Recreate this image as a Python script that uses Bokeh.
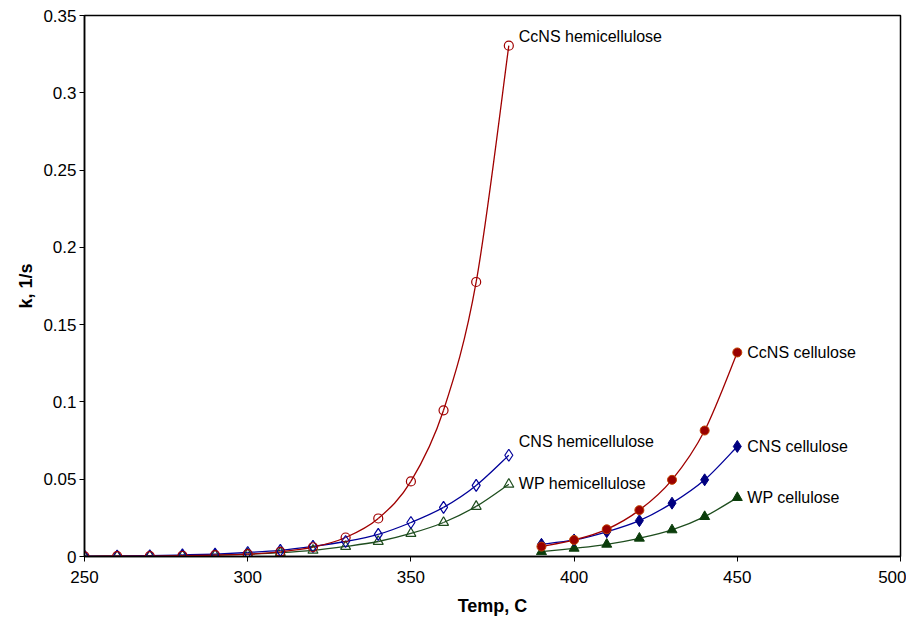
import numpy as np
from bokeh.plotting import figure
from bokeh.models import ColumnDataSource, Range1d, FixedTicker, Label
from bokeh.embed import file_html
from bokeh.resources import INLINE

# ---- data ----
temp_hemi = [250, 260, 270, 280, 290, 300, 310, 320, 330, 340, 350, 360, 370, 380]
ccns_hemi = [0.0001, 0.0002, 0.0003, 0.0005, 0.0009, 0.0015, 0.003, 0.006, 0.0123, 0.0246, 0.0486, 0.0946, 0.1776, 0.3305]
cns_hemi = [0.0002, 0.0003, 0.0005, 0.001, 0.0016, 0.0026, 0.004, 0.0065, 0.0097, 0.0143, 0.022, 0.0318, 0.046, 0.0655]
wp_hemi = [0.0001, 0.0002, 0.0003, 0.0005, 0.0009, 0.0015, 0.0025, 0.004, 0.0065, 0.0097, 0.0149, 0.022, 0.0324, 0.0467]

temp_cell = [390, 400, 410, 420, 430, 440, 450]
ccns_cell = [0.0064, 0.0107, 0.0176, 0.030, 0.0496, 0.0815, 0.132]
cns_cell = [0.0079, 0.0107, 0.016, 0.0232, 0.0345, 0.0496, 0.0712]
wp_cell = [0.0031, 0.0053, 0.0079, 0.0118, 0.0172, 0.0258, 0.0381]

x_ticks = [250, 300, 350, 400, 450, 500]
y_ticks = [0, 0.05, 0.1, 0.15, 0.2, 0.25, 0.3, 0.35]
y_tick_labels = {0: "0", 0.05: "0.05", 0.1: "0.1", 0.15: "0.15", 0.2: "0.2",
                 0.25: "0.25", 0.3: "0.3", 0.35: "0.35"}

RED = "#A00000"
BLUE = "#000099"
GREEN = "#1E4D1E"
FONT = "Liberation Sans"

p = figure(width=906, height=621, output_backend="svg", toolbar_location=None,
           x_range=Range1d(250, 500), y_range=Range1d(0, 0.35),
           min_border_left=84, min_border_right=6, min_border_top=15, min_border_bottom=65)
p.grid.visible = False
p.outline_line_color = "black"
p.outline_line_width = 1.5
p.background_fill_color = "white"
p.border_fill_color = "white"

for ax in (p.xaxis[0], p.yaxis[0]):
    ax.axis_line_width = 1.5
    ax.axis_line_color = "black"
    ax.major_tick_line_color = "black"
    ax.major_tick_in = 0
    ax.major_tick_out = 5
    ax.minor_tick_line_color = None
    ax.major_label_text_font = FONT
    ax.major_label_text_font_size = "17px"
    ax.major_label_text_color = "black"
    ax.axis_label_text_font = FONT
    ax.axis_label_text_font_size = "18px"
    ax.axis_label_text_font_style = "bold"
    ax.axis_label_text_color = "black"

p.xaxis.ticker = FixedTicker(ticks=x_ticks)
p.yaxis.ticker = FixedTicker(ticks=y_ticks)
p.yaxis.major_label_overrides = y_tick_labels
p.xaxis.axis_label = "Temp, C"
p.yaxis.axis_label = "k, 1/s"
p.xaxis.major_label_standoff = 9
p.xaxis.axis_label_standoff = 10
p.yaxis.major_label_standoff = 3
p.yaxis.axis_label_standoff = 4


def smooth(xs, ys, color):
    # Catmull-Rom style smoothing (like spreadsheet smoothed lines) drawn as Beziers
    xs = np.asarray(xs, float)
    ys = np.asarray(ys, float)
    n = len(xs)
    x0, y0, x1, y1, cx0, cy0, cx1, cy1 = [], [], [], [], [], [], [], []
    for i in range(n - 1):
        xp, yp = (xs[i - 1], ys[i - 1]) if i > 0 else (xs[i], ys[i])
        xn, yn = (xs[i + 2], ys[i + 2]) if i + 2 < n else (xs[i + 1], ys[i + 1])
        x0.append(xs[i]); y0.append(ys[i]); x1.append(xs[i + 1]); y1.append(ys[i + 1])
        cx0.append(xs[i] + (xs[i + 1] - xp) / 6.0)
        cy0.append(ys[i] + (ys[i + 1] - yp) / 6.0)
        cx1.append(xs[i + 1] - (xn - xs[i]) / 6.0)
        cy1.append(ys[i + 1] - (yn - ys[i]) / 6.0)
    src = ColumnDataSource(dict(x0=x0, y0=y0, x1=x1, y1=y1, cx0=cx0, cy0=cy0, cx1=cx1, cy1=cy1))
    p.bezier(x0="x0", y0="y0", x1="x1", y1="y1", cx0="cx0", cy0="cy0", cx1="cx1", cy1="cy1",
             source=src, line_color=color, line_width=1.3)


# hemicellulose series (open markers)
smooth(temp_hemi, wp_hemi, GREEN)
smooth(temp_hemi, cns_hemi, BLUE)
smooth(temp_hemi, ccns_hemi, RED)
p.scatter(temp_hemi, wp_hemi, marker="triangle", size=10, fill_color="white", fill_alpha=0,
          line_color=GREEN, line_width=1.2)
p.scatter(temp_hemi, cns_hemi, marker="diamond", size=12, fill_color="white", fill_alpha=0,
          line_color=BLUE, line_width=1.2)
p.scatter(temp_hemi, ccns_hemi, marker="circle", size=9, fill_color="white", fill_alpha=0,
          line_color=RED, line_width=1.2)

# cellulose series (filled markers)
smooth(temp_cell, wp_cell, GREEN)
smooth(temp_cell, cns_cell, BLUE)
smooth(temp_cell, ccns_cell, RED)
p.scatter(temp_cell, wp_cell, marker="triangle", size=10, fill_color="#0B3D0B",
          line_color="#0B3D0B", line_width=1)
p.scatter(temp_cell, cns_cell, marker="diamond", size=12, fill_color="#000080",
          line_color="#000080", line_width=1)
p.scatter(temp_cell, ccns_cell, marker="circle", size=9, fill_color="#990000",
          line_color="#C04000", line_width=1)

# series labels
labels = [
    ("CcNS hemicellulose", temp_hemi[-1], ccns_hemi[-1], 9),
    ("CNS hemicellulose", temp_hemi[-1], cns_hemi[-1], 14),
    ("WP hemicellulose", temp_hemi[-1], wp_hemi[-1], 1),
    ("CcNS cellulose", temp_cell[-1], ccns_cell[-1], 0),
    ("CNS cellulose", temp_cell[-1], cns_cell[-1], 0),
    ("WP cellulose", temp_cell[-1], wp_cell[-1], 0),
]
for txt, lx, ly, yoff in labels:
    p.add_layout(Label(x=lx, y=ly, text=txt, x_offset=10, y_offset=yoff,
                       text_font=FONT, text_font_size="16px", text_color="black",
                       text_baseline="middle", text_align="left"))

open("out.html", "w").write(file_html(p, INLINE))
